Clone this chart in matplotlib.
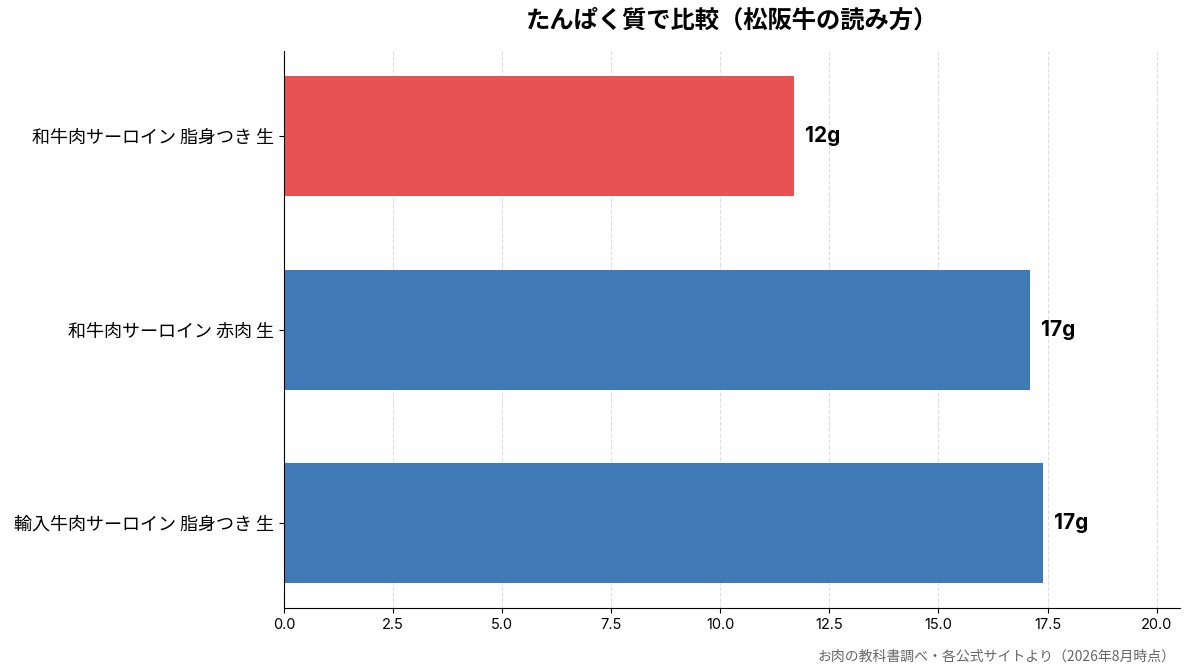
import matplotlib
matplotlib.use("Agg")
import matplotlib.pyplot as plt

plt.rcParams['font.family'] = ['Noto Sans CJK JP', 'DejaVu Sans']

categories = ["和牛肉サーロイン 脂身つき 生", "和牛肉サーロイン 赤肉 生", "輸入牛肉サーロイン 脂身つき 生"]
values = [11.7, 17.1, 17.4]
labels = ["12g", "17g", "17g"]
colors = ["#E85253", "#3F7AB6", "#3F7AB6"]

fig = plt.figure(figsize=(11.93, 6.72), dpi=100)
ax = fig.add_axes([0.238, 0.095, 0.751, 0.829])

ys = list(range(len(categories)))
ax.barh(ys, values, height=0.62, color=colors, zorder=2)
ax.set_yticks(ys)
ax.set_yticklabels(categories, fontsize=13)
ax.invert_yaxis()
ax.set_xlim(0, max(values) * 1.18)

for y, v, lab in zip(ys, values, labels):
    ax.text(v + 0.25, y, lab, va='center', ha='left', fontsize=15, fontweight='bold',
            family=['Inter', 'Noto Sans CJK JP'])

ax.xaxis.grid(True, linestyle='--', color='#dddddd', linewidth=0.8, zorder=0)
ax.set_axisbelow(True)
for s in ['top', 'right']:
    ax.spines[s].set_visible(False)
ax.tick_params(axis='x', labelsize=10.5)
for t in ax.get_xticklabels():
    t.set_family(['Inter', 'Noto Sans CJK JP'])

ax.set_title("たんぱく質で比較（松阪牛の読み方）", fontsize=17.5, fontweight='bold', pad=17)
fig.text(0.985, 0.012, "お肉の教科書調べ・各公式サイトより（2026年8月時点）", ha='right', va='bottom',
         fontsize=10, color='#666666')

fig.savefig("out.png", dpi=100)
